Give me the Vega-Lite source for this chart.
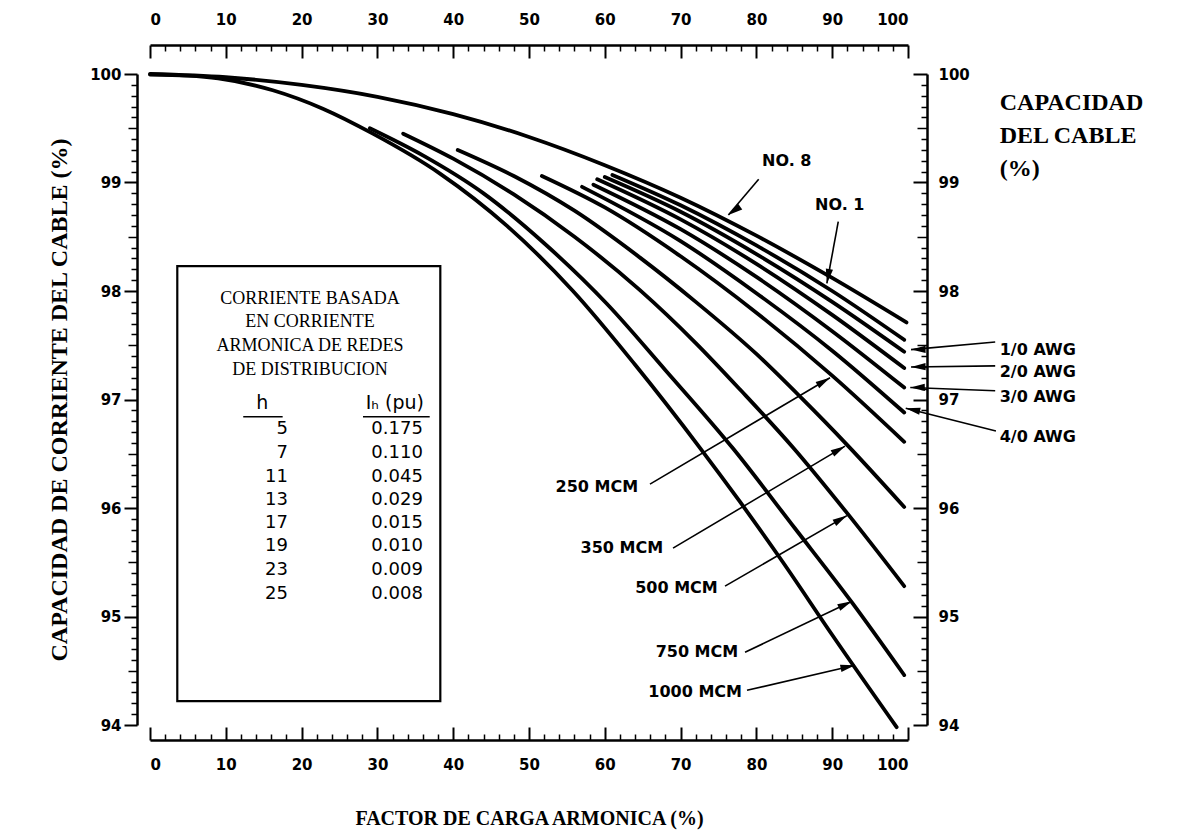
{
  "$schema": "https://vega.github.io/schema/vega-lite/v6.json",
  "width": 758,
  "height": 651,
  "autosize": {"type": "none"},
  "padding": {"left": 150, "top": 74, "right": 275, "bottom": 115},
  "background": "white",
  "config": {"view": {"stroke": null}},
  "datasets": {
    "curves": [
      {"curve": "NO. 8", "x": 0, "y": 100}, {"curve": "NO. 8", "x": 10, "y": 99.97}, {"curve": "NO. 8", "x": 20, "y": 99.9}, {"curve": "NO. 8", "x": 30, "y": 99.79}, {"curve": "NO. 8", "x": 40, "y": 99.63}, {"curve": "NO. 8", "x": 50, "y": 99.42}, {"curve": "NO. 8", "x": 60, "y": 99.16}, {"curve": "NO. 8", "x": 70, "y": 98.86}, {"curve": "NO. 8", "x": 80, "y": 98.51}, {"curve": "NO. 8", "x": 90, "y": 98.12}, {"curve": "NO. 8", "x": 99.8, "y": 97.71},
      {"curve": "NO. 1", "x": 61, "y": 99.07}, {"curve": "NO. 1", "x": 70, "y": 98.79}, {"curve": "NO. 1", "x": 80, "y": 98.42}, {"curve": "NO. 1", "x": 90, "y": 98.0}, {"curve": "NO. 1", "x": 99.5, "y": 97.55},
      {"curve": "1/0", "x": 60, "y": 99.05}, {"curve": "1/0", "x": 70, "y": 98.73}, {"curve": "1/0", "x": 80, "y": 98.34}, {"curve": "1/0", "x": 90, "y": 97.9}, {"curve": "1/0", "x": 99.5, "y": 97.44},
      {"curve": "2/0", "x": 59, "y": 99.03}, {"curve": "2/0", "x": 70, "y": 98.66}, {"curve": "2/0", "x": 80, "y": 98.25}, {"curve": "2/0", "x": 90, "y": 97.78}, {"curve": "2/0", "x": 99.5, "y": 97.29},
      {"curve": "3/0", "x": 58.5, "y": 98.98}, {"curve": "3/0", "x": 70, "y": 98.57}, {"curve": "3/0", "x": 80, "y": 98.13}, {"curve": "3/0", "x": 90, "y": 97.63}, {"curve": "3/0", "x": 99.5, "y": 97.11},
      {"curve": "4/0", "x": 57, "y": 98.96}, {"curve": "4/0", "x": 70, "y": 98.46}, {"curve": "4/0", "x": 80, "y": 97.98}, {"curve": "4/0", "x": 90, "y": 97.45}, {"curve": "4/0", "x": 99.5, "y": 96.88},
      {"curve": "250", "x": 51.7, "y": 99.06}, {"curve": "250", "x": 60, "y": 98.77}, {"curve": "250", "x": 70, "y": 98.32}, {"curve": "250", "x": 80, "y": 97.8}, {"curve": "250", "x": 90, "y": 97.22}, {"curve": "250", "x": 99.5, "y": 96.61},
      {"curve": "350", "x": 40.6, "y": 99.3}, {"curve": "350", "x": 48, "y": 99.06}, {"curve": "350", "x": 56, "y": 98.74}, {"curve": "350", "x": 64.6, "y": 98.31}, {"curve": "350", "x": 72, "y": 97.9}, {"curve": "350", "x": 80, "y": 97.42}, {"curve": "350", "x": 86, "y": 97.01}, {"curve": "350", "x": 92, "y": 96.58}, {"curve": "350", "x": 99.5, "y": 96.01},
      {"curve": "500", "x": 33.4, "y": 99.45}, {"curve": "500", "x": 40, "y": 99.22}, {"curve": "500", "x": 48, "y": 98.89}, {"curve": "500", "x": 56, "y": 98.5}, {"curve": "500", "x": 64.6, "y": 98.01}, {"curve": "500", "x": 72, "y": 97.52}, {"curve": "500", "x": 78, "y": 97.08}, {"curve": "500", "x": 84.8, "y": 96.56}, {"curve": "500", "x": 92, "y": 95.95}, {"curve": "500", "x": 99.5, "y": 95.28},
      {"curve": "750", "x": 29, "y": 99.5}, {"curve": "750", "x": 36, "y": 99.25}, {"curve": "750", "x": 44, "y": 98.9}, {"curve": "750", "x": 52, "y": 98.44}, {"curve": "750", "x": 60.3, "y": 97.88}, {"curve": "750", "x": 68, "y": 97.27}, {"curve": "750", "x": 76.9, "y": 96.55}, {"curve": "750", "x": 85, "y": 95.82}, {"curve": "750", "x": 92.6, "y": 95.13}, {"curve": "750", "x": 99.5, "y": 94.46},
      {"curve": "1000", "x": 0, "y": 99.995}, {"curve": "1000", "x": 5, "y": 99.985}, {"curve": "1000", "x": 9, "y": 99.96}, {"curve": "1000", "x": 16.2, "y": 99.85}, {"curve": "1000", "x": 22.8, "y": 99.68}, {"curve": "1000", "x": 29.4, "y": 99.45}, {"curve": "1000", "x": 38.3, "y": 99.08}, {"curve": "1000", "x": 47.1, "y": 98.6}, {"curve": "1000", "x": 55.8, "y": 98.0}, {"curve": "1000", "x": 64, "y": 97.32}, {"curve": "1000", "x": 72.6, "y": 96.55}, {"curve": "1000", "x": 77.8, "y": 96.06}, {"curve": "1000", "x": 83.5, "y": 95.5}, {"curve": "1000", "x": 90.1, "y": 94.82}, {"curve": "1000", "x": 98.5, "y": 93.98}
    ],
    "arrows": [
      {"name": "NO. 8", "x": 80.3, "y": 99.03, "xe": 76.3, "ye": 98.7},
      {"name": "NO. 1", "x": 90.8, "y": 98.64, "xe": 89.3, "ye": 98.07},
      {"name": "1/0 AWG", "x": 111.5, "y": 97.53, "xe": 100.4, "ye": 97.46},
      {"name": "2/0 AWG", "x": 111.5, "y": 97.31, "xe": 100.4, "ye": 97.3},
      {"name": "3/0 AWG", "x": 111.5, "y": 97.08, "xe": 100.3, "ye": 97.11},
      {"name": "4/0 AWG", "x": 111.6, "y": 96.71, "xe": 99.7, "ye": 96.92},
      {"name": "250 MCM", "x": 65.96, "y": 96.22, "xe": 89.71, "ye": 97.2},
      {"name": "350 MCM", "x": 69.0, "y": 95.63, "xe": 91.69, "ye": 96.57},
      {"name": "500 MCM", "x": 75.86, "y": 95.28, "xe": 91.95, "ye": 95.93},
      {"name": "750 MCM", "x": 78.5, "y": 94.67, "xe": 92.6, "ye": 95.14},
      {"name": "1000 MCM", "x": 78.76, "y": 94.32, "xe": 93.0, "ye": 94.55}
    ],
    "labelsRight": [
      {"text": "250 MCM", "x": 64.4, "y": 96.19},
      {"text": "350 MCM", "x": 67.7, "y": 95.63},
      {"text": "500 MCM", "x": 74.9, "y": 95.26},
      {"text": "750 MCM", "x": 77.6, "y": 94.67},
      {"text": "1000 MCM", "x": 78.1, "y": 94.3}
    ],
    "labelsLeft": [
      {"text": "1/0 AWG", "x": 112.1, "y": 97.46},
      {"text": "2/0 AWG", "x": 112.1, "y": 97.25},
      {"text": "3/0 AWG", "x": 112.1, "y": 97.02},
      {"text": "4/0 AWG", "x": 112.1, "y": 96.65}
    ],
    "labelsCenter": [
      {"text": "NO. 8", "x": 84.0, "y": 99.2},
      {"text": "NO. 1", "x": 91.0, "y": 98.79}
    ],
    "rightTitle": [
      {"text": "CAPACIDAD", "x": 112.1, "y": 99.73},
      {"text": "DEL CABLE", "x": 112.1, "y": 99.43},
      {"text": "(%)", "x": 112.1, "y": 99.12}
    ],
    "box": [{"x": 3.6, "x2": 38.3, "y": 98.23, "y2": 94.22}],
    "boxTitle": [
      {"text": "CORRIENTE  BASADA", "x": 21.1, "y": 97.93},
      {"text": "EN CORRIENTE", "x": 21.1, "y": 97.71},
      {"text": "ARMONICA DE REDES", "x": 21.1, "y": 97.49},
      {"text": "DE DISTRIBUCION", "x": 21.1, "y": 97.27}
    ],
    "tableHead": [
      {"text": "h", "x": 14.8, "y": 96.97},
      {"text": "Iₕ (pu)", "x": 32.3, "y": 96.97}
    ],
    "underlines": [
      {"x": 12.3, "x2": 17.5, "y": 96.84},
      {"x": 28.1, "x2": 36.9, "y": 96.84}
    ],
    "table": [
      {"h": "5", "ih": "0.175", "xh": 18.2, "xi": 36.0, "y": 96.73},
      {"h": "7", "ih": "0.110", "xh": 18.2, "xi": 36.0, "y": 96.51},
      {"h": "11", "ih": "0.045", "xh": 18.2, "xi": 36.0, "y": 96.29},
      {"h": "13", "ih": "0.029", "xh": 18.2, "xi": 36.0, "y": 96.07},
      {"h": "17", "ih": "0.015", "xh": 18.2, "xi": 36.0, "y": 95.86},
      {"h": "19", "ih": "0.010", "xh": 18.2, "xi": 36.0, "y": 95.65},
      {"h": "23", "ih": "0.009", "xh": 18.2, "xi": 36.0, "y": 95.43},
      {"h": "25", "ih": "0.008", "xh": 18.2, "xi": 36.0, "y": 95.21}
    ]
  },
  "resolve": {"axis": {"x": "independent", "y": "independent"}},
  "layer": [
    {
      "data": {"name": "curves"},
      "mark": {"type": "line", "color": "black", "strokeWidth": 3.8, "strokeCap": "round", "interpolate": "monotone", "clip": false},
      "encoding": {
        "x": {"field": "x", "type": "quantitative", "scale": {"domain": [0, 100], "nice": false, "zero": false},
          "axis": {"orient": "bottom", "offset": 15, "values": [0, 10, 20, 30, 40, 50, 60, 70, 80, 90, 100], "ticks": false, "domain": true, "domainColor": "black", "domainWidth": 2.5, "labelPadding": 17, "labelFont": "DejaVu Sans", "labelFontWeight": "bold", "labelFontSize": 15, "labelColor": "black", "grid": false,
            "title": "FACTOR DE CARGA ARMONICA (%)", "titleFont": "Liberation Serif", "titleFontWeight": "bold", "titleFontSize": 20, "titleColor": "black", "titlePadding": 36}},
        "y": {"field": "y", "type": "quantitative", "scale": {"domain": [94, 100], "nice": false, "zero": false},
          "axis": {"orient": "left", "offset": 13, "values": [94, 95, 96, 97, 98, 99, 100], "tickSize": 13, "tickWidth": 2, "tickColor": "black", "domain": true, "domainColor": "black", "domainWidth": 2.5, "labelPadding": 3, "labelFont": "DejaVu Sans", "labelFontWeight": "bold", "labelFontSize": 15, "labelColor": "black", "grid": false,
            "title": "CAPACIDAD DE CORRIENTE DEL CABLE (%)", "titleFont": "Liberation Serif", "titleFontWeight": "bold", "titleFontSize": 24, "titleColor": "black", "titlePadding": 18}},
        "detail": {"field": "curve", "type": "nominal"}
      }
    },
    {
      "data": {"name": "curves"},
      "mark": {"type": "point", "opacity": 0},
      "encoding": {
        "x": {"field": "x", "type": "quantitative",
          "axis": {"orient": "top", "offset": 29, "values": [0, 10, 20, 30, 40, 50, 60, 70, 80, 90, 100], "ticks": false, "domain": true, "domainColor": "black", "domainWidth": 2.5, "labelPadding": 18, "labelFont": "DejaVu Sans", "labelFontWeight": "bold", "labelFontSize": 15, "labelColor": "black", "grid": false, "title": null}},
        "y": {"field": "y", "type": "quantitative",
          "axis": {"orient": "right", "offset": 19, "values": [94, 95, 96, 97, 98, 99, 100], "ticks": false, "domain": true, "domainColor": "black", "domainWidth": 2.5, "labelPadding": 11, "labelFont": "DejaVu Sans", "labelFontWeight": "bold", "labelFontSize": 15, "labelColor": "black", "grid": false, "title": null}}
      }
    },
    {
      "data": {"name": "curves"},
      "mark": {"type": "point", "opacity": 0},
      "encoding": {
        "x": {"field": "x", "type": "quantitative",
          "axis": {"orient": "bottom", "offset": 15, "values": [0, 10, 20, 30, 40, 50, 60, 70, 80, 90, 100], "tickSize": -13, "tickWidth": 2, "tickColor": "black", "labels": false, "domain": false, "grid": false, "title": null}},
        "y": {"field": "y", "type": "quantitative",
          "axis": {"orient": "left", "offset": 13, "values": [94.1, 94.2, 94.3, 94.4, 94.6, 94.7, 94.8, 94.9, 95.1, 95.2, 95.3, 95.4, 95.6, 95.7, 95.8, 95.9, 96.1, 96.2, 96.3, 96.4, 96.6, 96.7, 96.8, 96.9, 97.1, 97.2, 97.3, 97.4, 97.6, 97.7, 97.8, 97.9, 98.1, 98.2, 98.3, 98.4, 98.6, 98.7, 98.8, 98.9, 99.1, 99.2, 99.3, 99.4, 99.6, 99.7, 99.8, 99.9], "tickSize": 6, "tickWidth": 1.5, "tickColor": "black", "labels": false, "domain": false, "grid": false, "title": null}}
      }
    },
    {
      "data": {"name": "curves"},
      "mark": {"type": "point", "opacity": 0},
      "encoding": {
        "x": {"field": "x", "type": "quantitative",
          "axis": {"orient": "top", "offset": 29, "values": [0, 10, 20, 30, 40, 50, 60, 70, 80, 90, 100], "tickSize": -13, "tickWidth": 2, "tickColor": "black", "labels": false, "domain": false, "grid": false, "title": null}},
        "y": {"field": "y", "type": "quantitative",
          "axis": {"orient": "right", "offset": 19, "values": [94, 95, 96, 97, 98, 99, 100], "tickSize": -14, "tickWidth": 2, "tickColor": "black", "labels": false, "domain": false, "grid": false, "title": null}}
      }
    },
    {
      "data": {"name": "curves"},
      "mark": {"type": "point", "opacity": 0},
      "encoding": {
        "x": {"field": "x", "type": "quantitative",
          "axis": {"orient": "bottom", "offset": 15, "values": [2, 4, 6, 8, 12, 14, 16, 18, 22, 24, 26, 28, 32, 34, 36, 38, 42, 44, 46, 48, 52, 54, 56, 58, 62, 64, 66, 68, 72, 74, 76, 78, 82, 84, 86, 88, 92, 94, 96, 98], "tickSize": -6, "tickWidth": 1.5, "tickColor": "black", "labels": false, "domain": false, "grid": false, "title": null}},
        "y": {"field": "y", "type": "quantitative",
          "axis": {"orient": "right", "offset": 19, "values": [94.1, 94.2, 94.3, 94.4, 94.6, 94.7, 94.8, 94.9, 95.1, 95.2, 95.3, 95.4, 95.6, 95.7, 95.8, 95.9, 96.1, 96.2, 96.3, 96.4, 96.6, 96.7, 96.8, 96.9, 97.1, 97.2, 97.3, 97.4, 97.6, 97.7, 97.8, 97.9, 98.1, 98.2, 98.3, 98.4, 98.6, 98.7, 98.8, 98.9, 99.1, 99.2, 99.3, 99.4, 99.6, 99.7, 99.8, 99.9], "tickSize": -6, "tickWidth": 1.5, "tickColor": "black", "labels": false, "domain": false, "grid": false, "title": null}}
      }
    },
    {
      "data": {"name": "curves"},
      "mark": {"type": "point", "opacity": 0},
      "encoding": {
        "x": {"field": "x", "type": "quantitative",
          "axis": {"orient": "top", "offset": 29, "values": [2, 4, 6, 8, 12, 14, 16, 18, 22, 24, 26, 28, 32, 34, 36, 38, 42, 44, 46, 48, 52, 54, 56, 58, 62, 64, 66, 68, 72, 74, 76, 78, 82, 84, 86, 88, 92, 94, 96, 98], "tickSize": -6, "tickWidth": 1.5, "tickColor": "black", "labels": false, "domain": false, "grid": false, "title": null}},
        "y": {"field": "y", "type": "quantitative",
          "axis": {"orient": "left", "offset": 13, "values": [94.5, 95.5, 96.5, 97.5, 98.5, 99.5], "tickSize": 9, "tickWidth": 1.5, "tickColor": "black", "labels": false, "domain": false, "grid": false, "title": null}}
      }
    },
    {
      "data": {"name": "curves"},
      "mark": {"type": "point", "opacity": 0},
      "encoding": {
        "x": {"field": "x", "type": "quantitative", "axis": null},
        "y": {"field": "y", "type": "quantitative",
          "axis": {"orient": "right", "offset": 19, "values": [94.5, 95.5, 96.5, 97.5, 98.5, 99.5], "tickSize": -10, "tickWidth": 1.5, "tickColor": "black", "labels": false, "domain": false, "grid": false, "title": null}}
      }
    },
    {
      "data": {"name": "box"},
      "mark": {"type": "rect", "fill": null, "fillOpacity": 0, "stroke": "black", "strokeWidth": 2.2},
      "encoding": {
        "x": {"field": "x", "type": "quantitative", "axis": null}, "x2": {"field": "x2"},
        "y": {"field": "y", "type": "quantitative", "axis": null}, "y2": {"field": "y2"}
      }
    },
    {
      "data": {"name": "arrows"},
      "mark": {"type": "rule", "color": "black", "strokeWidth": 1.6, "clip": false},
      "encoding": {
        "x": {"field": "x", "type": "quantitative", "axis": null}, "x2": {"field": "xe"},
        "y": {"field": "y", "type": "quantitative", "axis": null}, "y2": {"field": "ye"}
      }
    },
    {
      "data": {"name": "arrows"},
      "transform": [{"filter": "indexof(['250 MCM','350 MCM','500 MCM'], datum.name) >= 0"}],
      "mark": {"type": "point", "shape": "M0,0L-0.4,1.6L0.4,1.6Z", "filled": true, "color": "black", "opacity": 1, "size": 330, "angle": 60, "clip": false},
      "encoding": {"x": {"field": "xe", "type": "quantitative", "axis": null}, "y": {"field": "ye", "type": "quantitative", "axis": null}}
    },
    {
      "data": {"name": "arrows"},
      "transform": [{"filter": "datum.name == '750 MCM'"}],
      "mark": {"type": "point", "shape": "M0,0L-0.4,1.6L0.4,1.6Z", "filled": true, "color": "black", "opacity": 1, "size": 330, "angle": 65, "clip": false},
      "encoding": {"x": {"field": "xe", "type": "quantitative", "axis": null}, "y": {"field": "ye", "type": "quantitative", "axis": null}}
    },
    {
      "data": {"name": "arrows"},
      "transform": [{"filter": "datum.name == '1000 MCM'"}],
      "mark": {"type": "point", "shape": "M0,0L-0.4,1.6L0.4,1.6Z", "filled": true, "color": "black", "opacity": 1, "size": 330, "angle": 78, "clip": false},
      "encoding": {"x": {"field": "xe", "type": "quantitative", "axis": null}, "y": {"field": "ye", "type": "quantitative", "axis": null}}
    },
    {
      "data": {"name": "arrows"},
      "transform": [{"filter": "datum.name == 'NO. 8'"}],
      "mark": {"type": "point", "shape": "M0,0L-0.4,1.6L0.4,1.6Z", "filled": true, "color": "black", "opacity": 1, "size": 330, "angle": 234, "clip": false},
      "encoding": {"x": {"field": "xe", "type": "quantitative", "axis": null}, "y": {"field": "ye", "type": "quantitative", "axis": null}}
    },
    {
      "data": {"name": "arrows"},
      "transform": [{"filter": "datum.name == 'NO. 1'"}],
      "mark": {"type": "point", "shape": "M0,0L-0.4,1.6L0.4,1.6Z", "filled": true, "color": "black", "opacity": 1, "size": 330, "angle": 190, "clip": false},
      "encoding": {"x": {"field": "xe", "type": "quantitative", "axis": null}, "y": {"field": "ye", "type": "quantitative", "axis": null}}
    },
    {
      "data": {"name": "arrows"},
      "transform": [{"filter": "indexof(['1/0 AWG','2/0 AWG','3/0 AWG'], datum.name) >= 0"}],
      "mark": {"type": "point", "shape": "M0,0L-0.4,1.6L0.4,1.6Z", "filled": true, "color": "black", "opacity": 1, "size": 330, "angle": 269, "clip": false},
      "encoding": {"x": {"field": "xe", "type": "quantitative", "axis": null}, "y": {"field": "ye", "type": "quantitative", "axis": null}}
    },
    {
      "data": {"name": "arrows"},
      "transform": [{"filter": "datum.name == '4/0 AWG'"}],
      "mark": {"type": "point", "shape": "M0,0L-0.4,1.6L0.4,1.6Z", "filled": true, "color": "black", "opacity": 1, "size": 330, "angle": 282, "clip": false},
      "encoding": {"x": {"field": "xe", "type": "quantitative", "axis": null}, "y": {"field": "ye", "type": "quantitative", "axis": null}}
    },
    {
      "data": {"name": "labelsRight"},
      "mark": {"type": "text", "align": "right", "baseline": "middle", "font": "DejaVu Sans", "fontWeight": "bold", "fontSize": 16, "color": "black", "clip": false},
      "encoding": {"x": {"field": "x", "type": "quantitative", "axis": null}, "y": {"field": "y", "type": "quantitative", "axis": null}, "text": {"field": "text"}}
    },
    {
      "data": {"name": "labelsLeft"},
      "mark": {"type": "text", "align": "left", "baseline": "middle", "font": "DejaVu Sans", "fontWeight": "bold", "fontSize": 16, "color": "black", "clip": false},
      "encoding": {"x": {"field": "x", "type": "quantitative", "axis": null}, "y": {"field": "y", "type": "quantitative", "axis": null}, "text": {"field": "text"}}
    },
    {
      "data": {"name": "labelsCenter"},
      "mark": {"type": "text", "align": "center", "baseline": "middle", "font": "DejaVu Sans", "fontWeight": "bold", "fontSize": 16, "color": "black", "clip": false},
      "encoding": {"x": {"field": "x", "type": "quantitative", "axis": null}, "y": {"field": "y", "type": "quantitative", "axis": null}, "text": {"field": "text"}}
    },
    {
      "data": {"name": "rightTitle"},
      "mark": {"type": "text", "align": "left", "baseline": "middle", "font": "Liberation Serif", "fontWeight": "bold", "fontSize": 24, "color": "black", "clip": false},
      "encoding": {"x": {"field": "x", "type": "quantitative", "axis": null}, "y": {"field": "y", "type": "quantitative", "axis": null}, "text": {"field": "text"}}
    },
    {
      "data": {"name": "boxTitle"},
      "mark": {"type": "text", "align": "center", "baseline": "middle", "font": "Liberation Serif", "fontSize": 18, "color": "black"},
      "encoding": {"x": {"field": "x", "type": "quantitative", "axis": null}, "y": {"field": "y", "type": "quantitative", "axis": null}, "text": {"field": "text"}}
    },
    {
      "data": {"name": "tableHead"},
      "mark": {"type": "text", "align": "center", "baseline": "middle", "font": "DejaVu Sans", "fontSize": 19, "color": "black"},
      "encoding": {"x": {"field": "x", "type": "quantitative", "axis": null}, "y": {"field": "y", "type": "quantitative", "axis": null}, "text": {"field": "text"}}
    },
    {
      "data": {"name": "underlines"},
      "mark": {"type": "rule", "color": "black", "strokeWidth": 1.5},
      "encoding": {"x": {"field": "x", "type": "quantitative", "axis": null}, "x2": {"field": "x2"}, "y": {"field": "y", "type": "quantitative", "axis": null}}
    },
    {
      "data": {"name": "table"},
      "mark": {"type": "text", "align": "right", "baseline": "middle", "font": "DejaVu Sans", "fontSize": 18, "color": "black"},
      "encoding": {"x": {"field": "xh", "type": "quantitative", "axis": null}, "y": {"field": "y", "type": "quantitative", "axis": null}, "text": {"field": "h"}}
    },
    {
      "data": {"name": "table"},
      "mark": {"type": "text", "align": "right", "baseline": "middle", "font": "DejaVu Sans", "fontSize": 18, "color": "black"},
      "encoding": {"x": {"field": "xi", "type": "quantitative", "axis": null}, "y": {"field": "y", "type": "quantitative", "axis": null}, "text": {"field": "ih"}}
    }
  ]
}
